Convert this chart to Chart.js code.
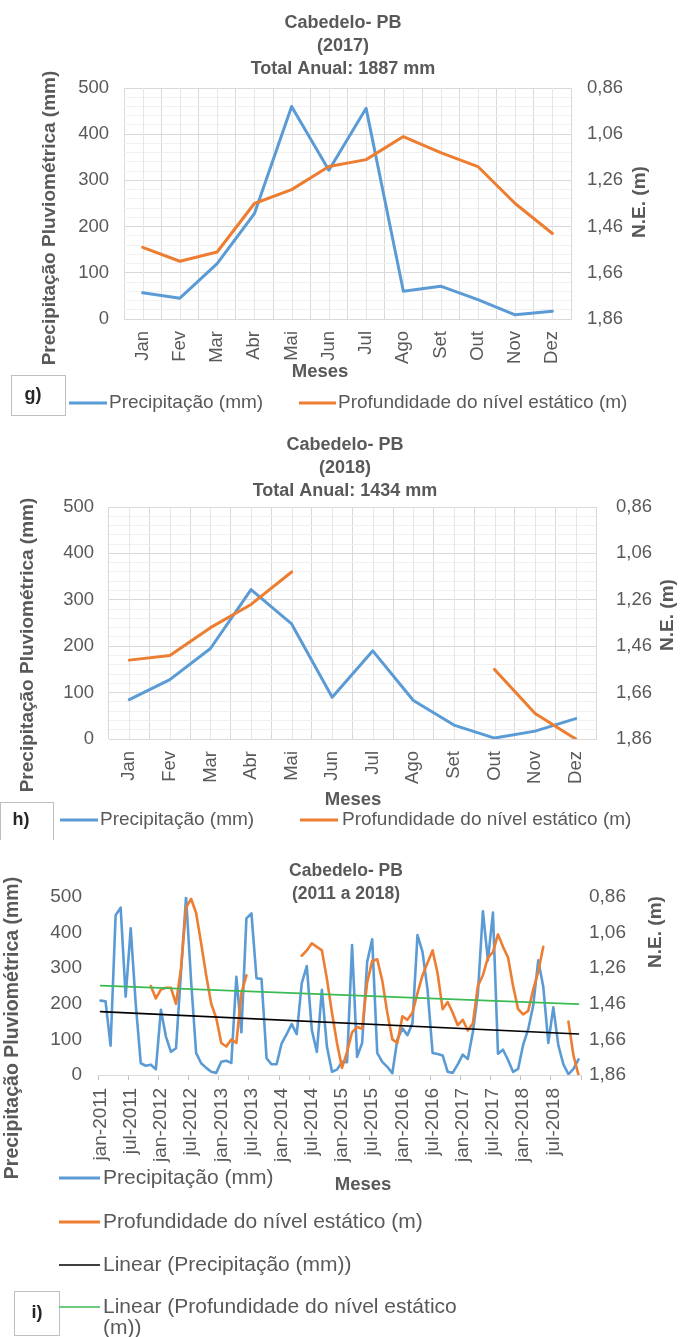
<!DOCTYPE html>
<html lang="pt-BR">
<head>
<meta charset="utf-8">
<title>Cabedelo- PB</title>
<script src="https://cdn.jsdelivr.net/npm/chart.js@4.4.1/dist/chart.umd.min.js"></script>
<style>
  html, body { margin: 0; padding: 0; background: #ffffff; }
  body { position: relative; width: 682px; height: 1337px; overflow: hidden; }
  canvas { position: absolute; left: 0; display: block; }
</style>
</head>
<body>
<canvas id="graf2017" width="682" height="420" style="top:0px"></canvas>
<canvas id="graf2018" width="682" height="420" style="top:420px"></canvas>
<canvas id="grafSerie" width="682" height="497" style="top:840px"></canvas>
<script>
// ---------- dados ----------
const mesesAbrev = ['Jan','Fev','Mar','Abr','Mai','Jun','Jul','Ago','Set','Out','Nov','Dez'];
const mesesSerie = ['jan','fev','mar','abr','mai','jun','jul','ago','set','out','nov','dez'];
const anosSerie  = [2011, 2012, 2013, 2014, 2015, 2016, 2017, 2018];

// precipitação mensal (mm)
const chuva2011 = [209, 207, 82, 449, 470, 220, 412, 200, 33, 26, 29, 16];
const chuva2012 = [183, 108, 65, 75, 290, 500, 265, 62, 33, 20, 9, 6];
const chuva2013 = [37, 40, 34, 276, 120, 440, 454, 272, 270, 47, 30, 30];
const chuva2014 = [89, 115, 143, 115, 258, 306, 126, 65, 239, 80, 9, 15];
const chuva2015 = [37, 36, 365, 51, 90, 318, 381, 62, 37, 23, 5, 100];
const chuva2016 = [131, 112, 145, 393, 346, 239, 62, 59, 55, 9, 6, 30];
const chuva2017 = [57, 45, 120, 228, 460, 322, 456, 60, 71, 42, 9, 17];
const chuva2018 = [85, 128, 195, 322, 248, 90, 190, 83, 30, 2, 17, 44];

// profundidade do nível estático (m); null = mês sem medição
const nivel2011 = [null, null, null, null, null, null, null, null, null, null, 1.36, 1.43];
const nivel2012 = [1.38, 1.37, 1.37, 1.46, 1.26, 0.92, 0.87, 0.95, 1.12, 1.30, 1.46, 1.54];
const nivel2013 = [1.68, 1.70, 1.66, 1.68, 1.40, 1.30, null, null, null, null, null, null];
const nivel2014 = [null, null, null, null, 1.19, 1.16, 1.12, 1.14, 1.16, 1.32, 1.51, 1.68];
const nivel2015 = [1.82, 1.73, 1.62, 1.59, 1.60, 1.34, 1.22, 1.21, 1.33, 1.51, 1.66, 1.68];
const nivel2016 = [1.53, 1.55, 1.51, 1.40, 1.30, 1.23, 1.16, 1.29, 1.49, 1.45, 1.51, 1.58];
const nivel2017 = [1.55, 1.61, 1.57, 1.36, 1.30, 1.20, 1.17, 1.07, 1.14, 1.20, 1.36, 1.49];
const nivel2018 = [1.52, 1.50, 1.38, 1.28, 1.14, null, null, null, null, 1.56, 1.75, 1.86];

// retas de tendência linear: valor no primeiro e no último mês da série
const tendenciaChuva = [178, 115];
const tendenciaNivel = [1.358, 1.462];

// marcações dos eixos
const ticksChuva = [0, 100, 200, 300, 400, 500];
const ticksNivel = [0.86, 1.06, 1.26, 1.46, 1.66, 1.86];
const passoGradeMenor = 20;

// ---------- estilo ----------
const fam = "'Liberation Sans', Arial, Helvetica, sans-serif";
const cinza = '#595959';
const azul = '#5b9bd5', laranja = '#ed7d31', preto = '#000000', verde = '#3cba54';
const fonte = (size, bold) => ({ family: fam, size: size, weight: bold ? 'bold' : 'normal' });

// linhas da grade secundária do eixo de precipitação
const gradeChuva = [];
for (let v = ticksChuva[0]; v <= ticksChuva[ticksChuva.length - 1]; v += passoGradeMenor) gradeChuva.push(v);

function quebrar(ctx, texto, max) {
  const palavras = texto.split(' ');
  const linhas = [];
  let atual = '';
  palavras.forEach(p => {
    const teste = atual ? atual + ' ' + p : p;
    if (max && ctx.measureText(teste).width > max && atual) { linhas.push(atual); atual = p; }
    else atual = teste;
  });
  if (atual) linhas.push(atual);
  return linhas;
}

// títulos, rótulos dos eixos, legenda e caixa de identificação do painel
function decoracao(cfg) {
  return {
    id: 'decoracao',
    beforeDatasetsDraw(chart) {
      if (!cfg.gradeCentral) return;
      const { ctx, chartArea: a, scales: { x } } = chart;
      ctx.save();
      ctx.strokeStyle = '#e6e6e6';
      ctx.lineWidth = 1;
      x.ticks.forEach((t, k) => {
        const px = Math.round(x.getPixelForTick(k)) + 0.5;
        ctx.beginPath(); ctx.moveTo(px, a.top); ctx.lineTo(px, a.bottom); ctx.stroke();
      });
      ctx.restore();
    },
    afterDraw(chart) {
      const ctx = chart.ctx;
      ctx.save();
      ctx.textAlign = 'center';
      ctx.textBaseline = 'middle';
      ctx.fillStyle = cinza;

      const t = cfg.titulo;
      ctx.font = `bold ${t.size}px ${fam}`;
      t.linhas.forEach((linha, k) => ctx.fillText(linha, t.x, t.y + k * t.dy));

      const vertical = (txt, x, y, size) => {
        ctx.save();
        ctx.translate(x, y);
        ctx.rotate(-Math.PI / 2);
        ctx.font = `bold ${size}px ${fam}`;
        ctx.fillText(txt, 0, 0);
        ctx.restore();
      };
      vertical('Precipitação Pluviométrica (mm)', cfg.eixoEsq.x, cfg.eixoEsq.y, cfg.eixoEsq.size);
      vertical('N.E. (m)', cfg.eixoDir.x, cfg.eixoDir.y, cfg.eixoDir.size);

      ctx.font = `bold ${cfg.meses.size}px ${fam}`;
      ctx.fillText('Meses', cfg.meses.x, cfg.meses.y);

      const b = cfg.caixa;
      ctx.fillStyle = '#ffffff';
      ctx.fillRect(b.x, b.y, b.w, b.h);
      ctx.strokeStyle = '#bfbfbf';
      ctx.lineWidth = 1;
      ctx.strokeRect(b.x + 0.5, b.y + 0.5, b.w, b.h);
      ctx.fillStyle = '#262626';
      ctx.font = `bold ${b.size}px ${fam}`;
      ctx.fillText(b.texto, b.tx, b.ty);

      const L = cfg.legenda;
      ctx.textAlign = 'left';
      ctx.font = `${L.size}px ${fam}`;
      L.itens.forEach(it => {
        const ds = chart.data.datasets[it.ds];
        ctx.strokeStyle = ds.borderColor;
        ctx.lineWidth = ds.borderWidth >= 2 ? L.lw : ds.borderWidth;
        ctx.beginPath(); ctx.moveTo(it.x1, it.y); ctx.lineTo(it.x2, it.y); ctx.stroke();
        ctx.fillStyle = cinza;
        quebrar(ctx, ds.label, L.max).forEach((linha, k) => ctx.fillText(linha, it.tx, it.y + k * L.dyQuebra));
      });
      ctx.restore();
    }
  };
}

const baseOpcoes = {
  responsive: false,
  animation: false,
  events: [],
  elements: {
    point: { radius: 0, hoverRadius: 0 },
    line: { tension: 0, fill: false, borderJoinStyle: 'round', borderCapStyle: 'round' }
  },
  plugins: { legend: { display: false }, tooltip: { enabled: false }, title: { display: false } }
};

function eixoChuva(geo, comGrade) {
  return {
    type: 'linear', position: 'left', min: ticksChuva[0], max: ticksChuva[ticksChuva.length - 1],
    afterBuildTicks: s => { s.ticks = (comGrade ? gradeChuva : ticksChuva).map(v => ({ value: v })); },
    grid: comGrade
      ? { color: c => (c.tick && ticksChuva.includes(c.tick.value)) ? '#d9d9d9' : '#f0f0f0', drawTicks: false, lineWidth: 1 }
      : { display: false, drawTicks: false },
    border: { display: false },
    ticks: { autoSkip: false, padding: geo.padY, color: cinza, font: fonte(geo.fonteTicks),
             callback: v => ticksChuva.includes(v) ? String(v) : '' },
    afterFit: s => { s.width = geo.area.left; }
  };
}

function eixoNivel(geo) {
  return {
    type: 'linear', position: 'right', min: ticksNivel[0], max: ticksNivel[ticksNivel.length - 1], reverse: true,
    afterBuildTicks: s => { s.ticks = ticksNivel.map(v => ({ value: v })); },
    grid: { display: false, drawTicks: false },
    border: { display: false },
    ticks: { autoSkip: false, padding: geo.padY2, color: cinza, font: fonte(geo.fonteTicks),
             callback: v => v.toFixed(2).replace('.', ',') },
    afterFit: s => { s.width = geo.largura - geo.area.right; }
  };
}

function graficoAnual(idCanvas, ano, chuva, nivel, geo) {
  const total = chuva.reduce((s, v) => s + v, 0);
  return new Chart(document.getElementById(idCanvas), {
    type: 'line',
    data: {
      labels: mesesAbrev,
      datasets: [
        { label: 'Precipitação (mm)', data: chuva, yAxisID: 'y', borderColor: azul, borderWidth: 3, order: 2 },
        { label: 'Profundidade do nível estático (m)', data: nivel, yAxisID: 'y2', borderColor: laranja, borderWidth: 3, order: 1 }
      ]
    },
    options: Object.assign({}, baseOpcoes, {
      layout: { padding: { top: geo.area.top, left: 0, right: 0, bottom: 0 } },
      scales: {
        x: {
          type: 'category', offset: true,
          grid: { offset: true, color: '#d9d9d9', lineWidth: 1, drawTicks: false },
          border: { display: true, color: '#d9d9d9' },
          ticks: { autoSkip: false, minRotation: 90, maxRotation: 90, padding: geo.padX, color: cinza, font: fonte(geo.fonteMeses) },
          afterFit: s => { s.height = geo.altura - geo.area.bottom; }
        },
        y: eixoChuva(geo, true),
        y2: eixoNivel(geo)
      }
    }),
    plugins: [decoracao({
      gradeCentral: true,
      titulo: { linhas: ['Cabedelo- PB', `(${ano})`, `Total Anual: ${total} mm`], x: geo.tituloX, y: geo.tituloY, dy: 23, size: 18 },
      eixoEsq: geo.eixoEsq, eixoDir: geo.eixoDir, meses: geo.meses,
      caixa: geo.caixa, legenda: geo.legenda
    })]
  });
}

graficoAnual('graf2017', 2017, chuva2017, nivel2017, {
  largura: 682, altura: 420,
  area: { left: 124, right: 571, top: 88, bottom: 319 },
  padX: 12, padY: 15, padY2: 16, fonteTicks: 18.5, fonteMeses: 18.5,
  tituloX: 343, tituloY: 23,
  eixoEsq: { x: 50, y: 218, size: 19 },
  eixoDir: { x: 640, y: 202, size: 19 },
  meses: { x: 320, y: 372, size: 18.5 },
  caixa: { x: 11, y: 375, w: 54, h: 40, texto: 'g)', tx: 33, ty: 395, size: 18 },
  legenda: { size: 19, lw: 3, dyQuebra: 21, itens: [
    { ds: 0, x1: 69, x2: 107, y: 403, tx: 109 },
    { ds: 1, x1: 299, x2: 336, y: 403, tx: 338 }
  ] }
});

graficoAnual('graf2018', 2018, chuva2018, nivel2018, {
  largura: 682, altura: 420,
  area: { left: 109, right: 596, top: 87, bottom: 319 },
  padX: 12, padY: 15, padY2: 20, fonteTicks: 18.5, fonteMeses: 18.5,
  tituloX: 345, tituloY: 25,
  eixoEsq: { x: 28, y: 225, size: 19 },
  eixoDir: { x: 668, y: 195, size: 19 },
  meses: { x: 353, y: 380, size: 18.5 },
  caixa: { x: 0, y: 382, w: 53, h: 45, texto: 'h)', tx: 21, ty: 400, size: 18 },
  legenda: { size: 19, lw: 3, dyQuebra: 21, itens: [
    { ds: 0, x1: 60, x2: 98, y: 400, tx: 100 },
    { ds: 1, x1: 300, x2: 338, y: 400, tx: 342 }
  ] }
});

// ---------- série 2011 a 2018 ----------
const rotulosSerie = anosSerie.flatMap(a => mesesSerie.map(m => `${m}-${a}`));
const chuvaSerie = [].concat(chuva2011, chuva2012, chuva2013, chuva2014, chuva2015, chuva2016, chuva2017, chuva2018);
const nivelSerie = [].concat(nivel2011, nivel2012, nivel2013, nivel2014, nivel2015, nivel2016, nivel2017, nivel2018);
const nSerie = rotulosSerie.length;
const extremos = par => rotulosSerie.map((_, k) => k === 0 ? par[0] : (k === nSerie - 1 ? par[1] : null));

const geoSerie = {
  largura: 682, altura: 497,
  area: { left: 98, right: 581, top: 57, bottom: 235 },
  padY: 16, padY2: 8, fonteTicks: 19
};

new Chart(document.getElementById('grafSerie'), {
  type: 'line',
  data: {
    labels: rotulosSerie,
    datasets: [
      { label: 'Precipitação (mm)', data: chuvaSerie, yAxisID: 'y', borderColor: azul, borderWidth: 2.6, order: 4 },
      { label: 'Profundidade do nível estático (m)', data: nivelSerie, yAxisID: 'y2', borderColor: laranja, borderWidth: 2.6, order: 3 },
      { label: 'Linear (Precipitação (mm))', data: extremos(tendenciaChuva), yAxisID: 'y', borderColor: preto, borderWidth: 1.6, spanGaps: true, order: 2 },
      { label: 'Linear (Profundidade do nível estático (m))', data: extremos(tendenciaNivel), yAxisID: 'y2', borderColor: verde, borderWidth: 1.6, spanGaps: true, order: 1 }
    ]
  },
  options: Object.assign({}, baseOpcoes, {
    layout: { padding: { top: geoSerie.area.top, left: 0, right: 0, bottom: 0 } },
    scales: {
      x: {
        type: 'category', offset: true,
        grid: {
          offset: true, drawOnChartArea: false, drawTicks: true, tickLength: 5, lineWidth: 1,
          color: c => (c.index === undefined || c.index % 6 === 0) ? '#bfbfbf' : 'rgba(0,0,0,0)'
        },
        border: { display: true, color: '#d9d9d9' },
        ticks: { autoSkip: false, minRotation: 90, maxRotation: 90, padding: 8, color: cinza, font: fonte(19),
                 callback: (v, k) => k % 6 === 0 ? rotulosSerie[k] : '' },
        afterFit: s => { s.height = geoSerie.altura - geoSerie.area.bottom; }
      },
      y: eixoChuva(geoSerie, false),
      y2: eixoNivel(geoSerie)
    }
  }),
  plugins: [decoracao({
    gradeCentral: false,
    titulo: { linhas: ['Cabedelo- PB', `(${anosSerie[0]} a ${anosSerie[anosSerie.length - 1]})`], x: 346, y: 31, dy: 23, size: 17.5 },
    eixoEsq: { x: 13, y: 188, size: 19.5 },
    eixoDir: { x: 656, y: 92, size: 19 },
    meses: { x: 363, y: 345, size: 18.5 },
    caixa: { x: 14, y: 451, w: 45, h: 44, texto: 'i)', tx: 37, ty: 473, size: 18 },
    legenda: { size: 21, lw: 3, max: 360, dyQuebra: 21, itens: [
      { ds: 0, x1: 59, x2: 100, y: 338, tx: 103 },
      { ds: 1, x1: 59, x2: 100, y: 382, tx: 103 },
      { ds: 2, x1: 59, x2: 100, y: 425, tx: 103 },
      { ds: 3, x1: 59, x2: 100, y: 467, tx: 103 }
    ] }
  })]
});
</script>
</body>
</html>
